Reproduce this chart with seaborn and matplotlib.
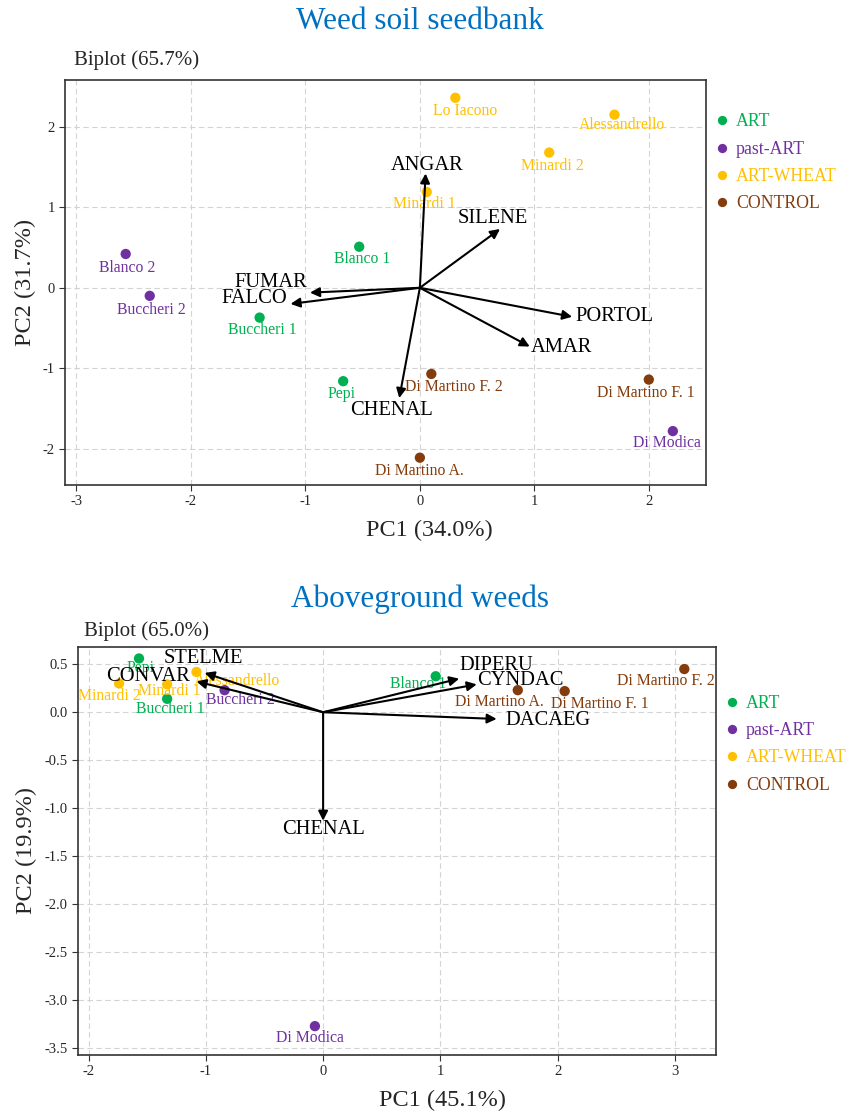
import numpy as np
import pandas as pd
import matplotlib
matplotlib.use("Agg")
import matplotlib.pyplot as plt
import seaborn as sns

sns.set_theme(style="white")
plt.rcParams['font.family'] = ['Liberation Serif', 'DejaVu Serif']
plt.rcParams['axes.unicode_minus'] = False

GROUPS = ['ART', 'past-ART', 'ART-WHEAT', 'CONTROL']
COLORS = ['#00B050', '#7030A0', '#FFC000', '#843C0C']

# --- Weed soil seedbank (top) ---
seed_farms = ['Lo Iacono', 'Alessandrello', 'Minardi 2', 'Minardi 1', 'Blanco 1', 'Blanco 2',
              'Buccheri 2', 'Buccheri 1', 'Pepi', 'Di Martino F. 2', 'Di Martino F. 1',
              'Di Modica', 'Di Martino A.']
seed_group = ['ART-WHEAT', 'ART-WHEAT', 'ART-WHEAT', 'ART-WHEAT', 'ART', 'past-ART',
              'past-ART', 'ART', 'ART', 'CONTROL', 'CONTROL', 'past-ART', 'CONTROL']
seed_pc1 = [0.31, 1.70, 1.13, 0.06, -0.53, -2.57, -2.36, -1.40, -0.67, 0.10, 2.00, 2.21, 0.00]
seed_pc2 = [2.36, 2.15, 1.68, 1.19, 0.51, 0.42, -0.10, -0.37, -1.16, -1.07, -1.14, -1.78, -2.11]

seed_vars = ['ANGAR', 'SILENE', 'PORTOL', 'AMAR', 'CHENAL', 'FUMAR', 'FALCO']
seed_load1 = [0.05, 0.70, 1.33, 0.96, -0.18, -0.96, -1.13]
seed_load2 = [1.42, 0.73, -0.36, -0.73, -1.37, -0.06, -0.20]

# --- Aboveground weeds (bottom) ---
above_farms = ['Pepi', 'Minardi 2', 'Minardi 1', 'Buccheri 1', 'Alessandrello', 'Buccheri 2',
               'Blanco 1', 'Di Martino A.', 'Di Martino F. 1', 'Di Martino F. 2', 'Di Modica']
above_group = ['ART', 'ART-WHEAT', 'ART-WHEAT', 'ART', 'ART-WHEAT', 'past-ART',
               'ART', 'CONTROL', 'CONTROL', 'CONTROL', 'past-ART']
above_pc1 = [-1.57, -1.74, -1.33, -1.33, -1.08, -0.84, 0.96, 1.66, 2.06, 3.08, -0.07]
above_pc2 = [0.56, 0.30, 0.29, 0.14, 0.42, 0.23, 0.375, 0.23, 0.22, 0.45, -3.27]

above_vars = ['STELME', 'CONVAR', 'DIPERU', 'CYNDAC', 'DACAEG', 'CHENAL']
above_load1 = [-1.01, -1.08, 1.16, 1.31, 1.48, 0.00]
above_load2 = [0.41, 0.32, 0.35, 0.29, -0.07, -1.13]

# label offsets (pixels) relative to the marker / arrow tip
seed_pt_off = [(10, -13), (8, -10), (3, -13), (-2, -12), (3, -12), (1, -14), (2, -14),
               (3, -12), (-2, -13), (23, -13), (-3, -13), (-6, -12), (0, -13)]
seed_var_off = [(2, 8), (-7, 11), (42, 0), (32, -1), (-8, -12), (-39, 10), (-36, 5)]
above_pt_off = [(2, -10), (-10, -13), (2, -7), (3, -10), (41, -9), (16, -10), (-18, -8),
                (-18, -12), (35, -13), (-18, -12), (-5, -12)]
above_var_off = [(-1, 14), (-48, 5), (37, 13), (44, 4), (51, -2), (0, -9)]

palette = dict(zip(GROUPS, COLORS))


def biplot(ax, farms, groups, pc1, pc2, pt_off, vars_, l1, l2, var_off, leg_top):
    df = pd.DataFrame({'farm': farms, 'group': groups, 'PC1': pc1, 'PC2': pc2})
    sns.scatterplot(data=df, x='PC1', y='PC2', hue='group', hue_order=GROUPS,
                    palette=palette, s=55, edgecolor='none', ax=ax, zorder=3)
    for (_, r), off in zip(df.iterrows(), pt_off):
        ax.annotate(r['farm'], (r['PC1'], r['PC2']), xytext=off, textcoords='offset pixels',
                    ha='center', va='center', fontsize=11.3, color=palette[r['group']], zorder=4)
    for name, a, b, off in zip(vars_, l1, l2, var_off):
        ax.annotate('', xy=(a, b), xytext=(0, 0),
                    arrowprops=dict(arrowstyle='-|>', color='black', lw=1.5,
                                    mutation_scale=14, shrinkA=0, shrinkB=0), zorder=5)
        ax.annotate(name, (a, b), xytext=off, textcoords='offset pixels',
                    ha='center', va='center', fontsize=14.8, color='black', zorder=6)
    ax.grid(True, linestyle=(0, (5, 3)), color='#d4d4d4', linewidth=0.8)
    for sp in ax.spines.values():
        sp.set_color('#333333')
        sp.set_linewidth(1.2)
    ax.tick_params(axis='both', which='both', length=4, width=0.8, color='#333333',
                   labelsize=10.5, bottom=True, left=True, direction='out')
    handles, labels = ax.get_legend_handles_labels()
    ax.legend(handles, labels, loc='upper left', bbox_to_anchor=(1.005, leg_top),
              frameon=False, fontsize=12.8, labelcolor=COLORS, handlelength=0.6,
              handletextpad=0.5, labelspacing=0.58, markerscale=0.9, borderaxespad=0)


fig = plt.figure(figsize=(8.49, 11.12), dpi=100)
ax1 = fig.add_axes([0.0766, 0.5638, 0.755, 0.3642])
ax2 = fig.add_axes([0.0919, 0.0513, 0.7514, 0.3669])

biplot(ax1, seed_farms, seed_group, seed_pc1, seed_pc2, seed_pt_off,
       seed_vars, seed_load1, seed_load2, seed_var_off, 0.935)
ax1.set_xlim(-3.1, 2.5)
ax1.set_ylim(-2.45, 2.58)
ax1.set_xticks([-3, -2, -1, 0, 1, 2])
ax1.set_yticks([-2, -1, 0, 1, 2])
ax1.set_xlabel('PC1 (34.0%)', fontsize=17.5)
ax1.set_ylabel('PC2 (31.7%)', fontsize=17.5, labelpad=5)
ax1.xaxis.set_label_coords(0.569, -0.085)
ax1.text(0.014, 1.05, 'Biplot (65.7%)', transform=ax1.transAxes, ha='left', va='center',
         fontsize=15)

biplot(ax2, above_farms, above_group, above_pc1, above_pc2, above_pt_off,
       above_vars, above_load1, above_load2, above_var_off, 0.9)
ax2.set_xlim(-2.09, 3.35)
ax2.set_ylim(-3.57, 0.68)
ax2.set_xticks([-2, -1, 0, 1, 2, 3])
ax2.set_yticks(np.arange(-3.5, 0.51, 0.5))
ax2.set_yticklabels([f'{v:.1f}' for v in np.arange(-3.5, 0.51, 0.5)])
ax2.set_xlabel('PC1 (45.1%)', fontsize=17.5)
ax2.set_ylabel('PC2 (19.9%)', fontsize=17.5, labelpad=5)
ax2.xaxis.set_label_coords(0.571, -0.085)
ax2.text(0.01, 1.04, 'Biplot (65.0%)', transform=ax2.transAxes, ha='left', va='center',
         fontsize=15)

fig.text(0.495, 0.981, 'Weed soil seedbank', ha='center', va='center', fontsize=22.5,
         color='#0070C0')
fig.text(0.495, 0.461, 'Aboveground weeds', ha='center', va='center', fontsize=22.5,
         color='#0070C0')

fig.savefig('out.png', dpi=100)
